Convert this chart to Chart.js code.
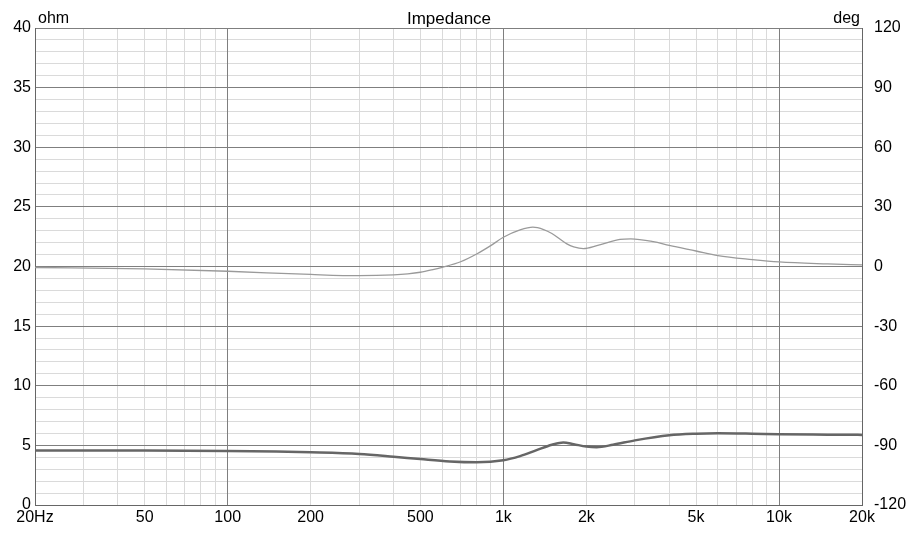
<!DOCTYPE html>
<html>
<head>
<meta charset="utf-8">
<script src="https://cdn.jsdelivr.net/npm/chart.js@4"></script>
<style>
  html, body { margin: 0; padding: 0; background: #fff; }
  #chart { display: block; }
</style>
</head>
<body>
<canvas id="chart" width="909" height="535"></canvas>
<script>
// Data
const magFreqs = [20, 50, 100, 150, 200, 300, 400, 500, 640, 800, 1000, 1150, 1320, 1500, 1650, 1800, 2000, 2180, 2500, 3000, 4000, 5000, 6000, 8000, 10000, 15000, 20000];
const magOhm = [4.56, 4.56, 4.53, 4.48, 4.42, 4.28, 4.05, 3.85, 3.65, 3.58, 3.75, 4.1, 4.6, 5.05, 5.25, 5.1, 4.9, 4.84, 5.05, 5.42, 5.85, 5.98, 6.02, 5.98, 5.93, 5.9, 5.88];

const phaseFreqs = [20, 50, 100, 200, 300, 400, 450, 500, 550, 600, 700, 800, 900, 1000, 1150, 1280, 1400, 1500, 1700, 1800, 1950, 2200, 2650, 2900, 3500, 4000, 5000, 6000, 8000, 10000, 15000, 20000];
const phaseDeg = [-0.5, -1.2, -2.4, -4, -4.6, -4.2, -3.7, -2.9, -1.7, -0.4, 2.4, 6.3, 10.5, 14.7, 18.4, 19.8, 18.6, 16.6, 11.4, 9.9, 9.0, 10.6, 13.6, 13.9, 12.5, 10.6, 7.8, 5.5, 3.5, 2.3, 1.3, 0.8];

const xTicks = [20, 30, 40, 50, 60, 70, 80, 90, 100, 200, 300, 400, 500, 600, 700, 800, 900, 1000, 2000, 3000, 4000, 5000, 6000, 7000, 8000, 9000, 10000, 20000];
const xLabels = { 20: '20Hz', 50: '50', 100: '100', 200: '200', 500: '500', 1000: '1k', 2000: '2k', 5000: '5k', 10000: '10k', 20000: '20k' };

const font = { family: '"Liberation Sans", Arial, sans-serif', size: 16 };
const majorGrid = '#7f7f7f';
const minorGrid = '#dadada';

// Title and unit labels
const textPlugin = {
    id: 'texts',
    afterDraw(chart) {
        const { ctx } = chart;
        ctx.save();
        ctx.fillStyle = '#000';
        ctx.textBaseline = 'alphabetic';
        ctx.font = '17px "Liberation Sans", Arial, sans-serif';
        ctx.textAlign = 'center';
        ctx.fillText('Impedance', 449, 24);
        ctx.font = '16px "Liberation Sans", Arial, sans-serif';
        ctx.textAlign = 'left';
        ctx.fillText('ohm', 38, 23);
        ctx.textAlign = 'right';
        ctx.fillText('deg', 860, 23);
        ctx.restore();
    },
};

new Chart(document.getElementById('chart').getContext('2d'), {
    type: 'line',
    data: {
        datasets: [
            {
                label: 'Phase',
                data: phaseFreqs.map((f, i) => ({ x: f, y: phaseDeg[i] })),
                yAxisID: 'y2',
                borderColor: '#9a9a9a',
                borderWidth: 1.3,
                pointRadius: 0,
                cubicInterpolationMode: 'monotone',
            },
            {
                label: 'Impedance',
                data: magFreqs.map((f, i) => ({ x: f, y: magOhm[i] })),
                yAxisID: 'y',
                borderColor: '#666666',
                borderWidth: 2.5,
                pointRadius: 0,
                cubicInterpolationMode: 'monotone',
            },
        ],
    },
    options: {
        responsive: false,
        animation: false,
        devicePixelRatio: 1,
        layout: { padding: { top: 28, left: 0, right: 0, bottom: 0 } },
        plugins: { legend: { display: false }, tooltip: { enabled: false } },
        scales: {
            x: {
                type: 'logarithmic',
                min: 20,
                max: 20000,
                afterBuildTicks: (axis) => { axis.ticks = xTicks.map((v) => ({ value: v })); },
                afterFit: (axis) => { axis.height = 30; },
                ticks: {
                    autoSkip: false,
                    maxRotation: 0,
                    padding: 3,
                    color: '#000',
                    font,
                    callback: (v) => xLabels[v] || '',
                },
                grid: {
                    z: -2,
                    drawTicks: false,
                    color: (c) => ([100, 1000, 10000, 20000].includes(c.tick.value) ? majorGrid : minorGrid),
                },
                border: { color: '#666' },
            },
            // minor horizontal lines only; the majors come from y2
            y: {
                position: 'left',
                min: 0,
                max: 40,
                afterFit: (axis) => { axis.width = 35; },
                ticks: {
                    stepSize: 1,
                    autoSkip: false,
                    padding: 4,
                    color: '#000',
                    font,
                    callback: (v) => (v % 5 === 0 ? v : ''),
                },
                grid: {
                    z: -3,
                    drawTicks: false,
                    color: minorGrid,
                },
                border: { color: '#666' },
            },
            y2: {
                position: 'right',
                min: -120,
                max: 120,
                afterFit: (axis) => { axis.width = 47; },
                ticks: {
                    stepSize: 30,
                    autoSkip: false,
                    padding: 12,
                    color: '#000',
                    font,
                },
                grid: { z: -1, drawTicks: false, color: majorGrid },
                border: { color: '#666' },
            },
        },
    },
    plugins: [textPlugin],
});
</script>
</body>
</html>
